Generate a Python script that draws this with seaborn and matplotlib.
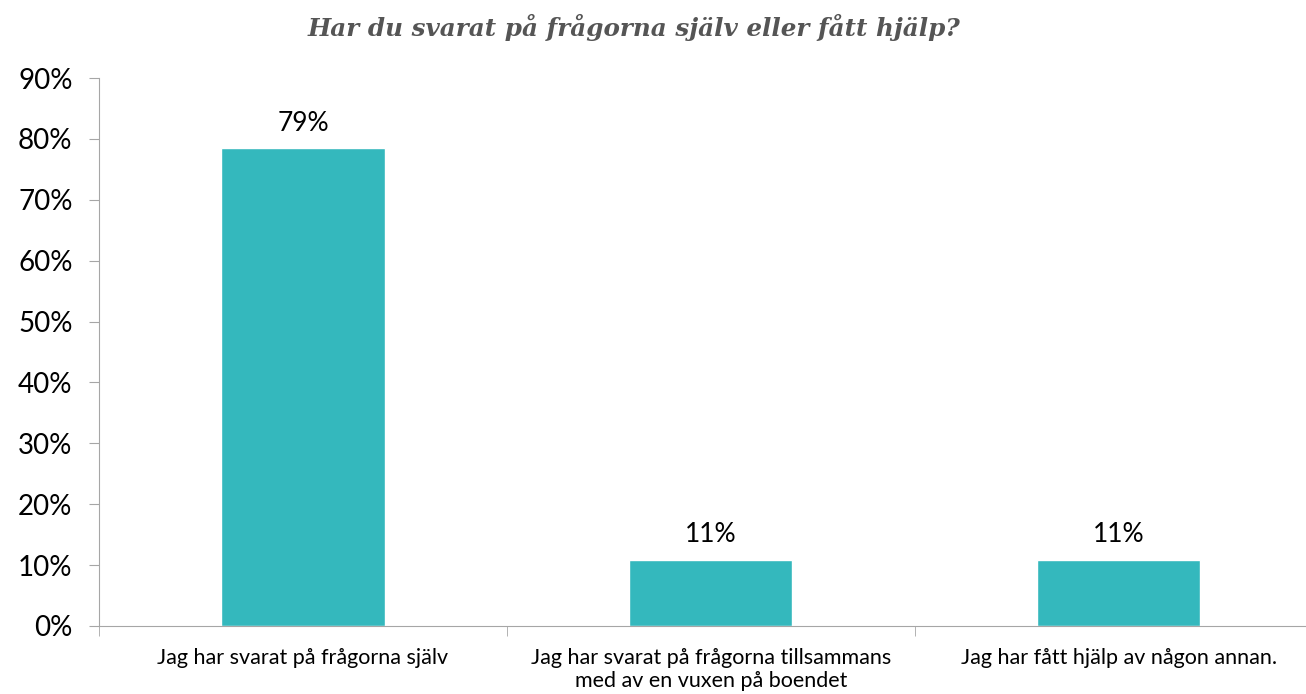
import matplotlib
matplotlib.use("Agg")
import matplotlib.pyplot as plt
import seaborn as sns
import pandas as pd

# Chart data
categories = [
    "Jag har svarat på frågorna själv",
    "Jag har svarat på frågorna tillsammans\nmed av en vuxen på boendet",
    "Jag har fått hjälp av någon annan.",
]
values = [78.5, 10.9, 10.9]
value_labels = ["79%", "11%", "11%"]
y_ticks = [0, 10, 20, 30, 40, 50, 60, 70, 80, 90]
y_tick_labels = ["0%", "10%", "20%", "30%", "40%", "50%", "60%", "70%", "80%", "90%"]
title = "Har du svarat på frågorna själv eller fått hjälp?"

sns.set_style("white")
plt.rcParams["font.family"] = ["Lato", "DejaVu Sans"]

df = pd.DataFrame({"kategori": categories, "andel": values})

fig = plt.figure(figsize=(13.06, 6.94), dpi=100)
# the plot area runs a little past the right edge of the figure, as in the original
ax = fig.add_axes([0.0758, 0.098, 0.937, 0.7896])

sns.barplot(data=df, x="kategori", y="andel", color="#34B8BD",
            saturation=1, width=0.40, ax=ax)

ax.set_xlim(-0.5, 2.5)
ax.set_ylim(0, 90)
ax.set_xlabel("")
ax.set_ylabel("")

axis_grey = "#A6A6A6"
for side in ["top", "right"]:
    ax.spines[side].set_visible(False)
ax.spines["left"].set_color(axis_grey)
ax.spines["bottom"].set_color(axis_grey)

ax.set_yticks(y_ticks)
ax.set_yticklabels(y_tick_labels, fontsize=20, color="black")
ax.tick_params(axis="y", direction="out", length=7, color=axis_grey, left=True, pad=12)

ax.set_xticks(range(len(categories)))
ax.set_xticklabels(categories, fontsize=15.5, color="black", linespacing=1.15)
ax.tick_params(axis="x", which="major", length=0, pad=16)
ax.set_xticks([-0.5, 0.5, 1.5, 2.5], minor=True)
ax.tick_params(axis="x", which="minor", direction="out", length=7,
               color=axis_grey, bottom=True)

# value labels above each bar
for i, (v, lab) in enumerate(zip(values, value_labels)):
    ax.annotate(lab, (i, v), xytext=(0, 18), textcoords="offset points",
                ha="center", va="center", fontsize=19, color="black")

fig.text(0.4855, 1 - 27 / 694, title, ha="center", va="center",
         fontsize=17.7, fontweight="bold", fontstyle="italic",
         family="DejaVu Serif", color="#555555")

fig.savefig("out.png", dpi=100)
